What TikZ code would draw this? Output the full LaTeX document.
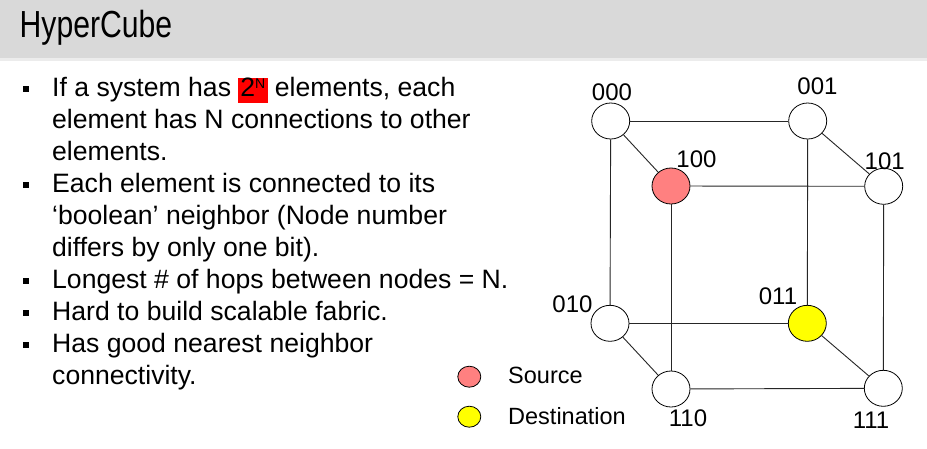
\documentclass[tikz,border=0pt]{standalone}
\usepackage{fontspec}
\setmainfont{Liberation Sans}
\newfontfamily\titlefont[FakeStretch=0.8]{Liberation Sans}
\usetikzlibrary{shapes.geometric}
\definecolor{barfill}{RGB}{217,217,217}
\definecolor{barline}{RGB}{236,236,236}
\definecolor{srcfill}{RGB}{255,128,128}
\definecolor{dstfill}{RGB}{255,255,0}
\definecolor{hl}{RGB}{255,0,0}
\setlength{\fboxsep}{0pt}
\newcommand{\twoN}{\colorbox{hl}{\rule[-6pt]{0pt}{24.7pt}\hspace{1.8pt}2\raisebox{8pt}{\fontsize{14}{14}\selectfont N}\hspace{2.4pt}}}
\begin{document}
\begin{tikzpicture}[x=1pt,y=-1pt,
  vertex/.style={ellipse,draw=black,line width=0.8pt,fill=white,minimum width=38pt,minimum height=36pt,inner sep=0},
  lbl/.style={font=\fontsize{24}{28}\selectfont,inner sep=0},
  bodytext/.style={font=\fontsize{26.6}{32}\selectfont,inner sep=0,anchor=base west},
  bulletsq/.style={fill=black,minimum size=6pt,inner sep=0},
  edge/.style={draw=black!85,line width=0.9pt},
  key/.style={ellipse,draw=black,line width=0.8pt,minimum width=23pt,minimum height=21pt,inner sep=0},
  keytext/.style={font=\fontsize{23.5}{28}\selectfont,inner sep=0,anchor=base west}]
\useasboundingbox (0,0) rectangle (927,448);
\fill[white] (0,0) rectangle (927,448);
% title bar
\fill[barfill] (0,0) rectangle (927,57.5);
\fill[barline] (0,57.5) rectangle (927,60.5);
\node[anchor=base west,inner sep=0,font=\titlefont\fontsize{37.7}{40}\selectfont] (title) at (19.5,37.3) {HyperCube};
% bullets
\foreach \n/\yy in {b1/88.5,b4/184.5,b7/280.5,b8/312.5,b9/344.5}
  \node[bulletsq] (\n) at (26.3,\yy) {};
% body text
\node[bodytext] (t1) at (52,96.7) {If a system has \twoN{} elements, each};
\node[bodytext] (t2) at (52,128.7) {element has N connections to other};
\node[bodytext] (t3) at (52,160.7) {elements.};
\node[bodytext] (t4) at (52,192.7) {Each element is connected to its};
\node[bodytext] (t5) at (52,224.7) {‘boolean’ neighbor (Node number};
\node[bodytext] (t6) at (52,256.7) {differs by only one bit).};
\node[bodytext] (t7) at (52,288.7) {Longest \# of hops between nodes = N.};
\node[bodytext] (t8) at (52,320.7) {Hard to build scalable fabric.};
\node[bodytext] (t9) at (52,352.7) {Has good nearest neighbor};
\node[bodytext] (t10) at (52,384.7) {connectivity.};
% cube vertices
\node[vertex] (v000) at (610.7,121) {};
\node[vertex] (v001) at (807.7,121) {};
\node[vertex,fill=srcfill] (v100) at (671,186) {};
\node[vertex] (v101) at (883.7,186.3) {};
\node[vertex] (v010) at (610,323.3) {};
\node[vertex,fill=dstfill] (v011) at (807.3,323.3) {};
\node[vertex] (v110) at (671,389) {};
\node[vertex] (v111) at (883.3,388.3) {};
% edges
\draw[edge] (v000) -- (v001);
\draw[edge] (v000) -- (v100);
\draw[edge] (v001) -- (v101);
\draw[edge] (v100) -- (v101);
\draw[edge] (v000) -- (v010);
\draw[edge] (v100) -- (v110);
\draw[edge] (v001) -- (v011);
\draw[edge] (v101) -- (v111);
\draw[edge] (v010) -- (v011);
\draw[edge] (v010) -- (v110);
\draw[edge] (v011) -- (v111);
\draw[edge] (v110) -- (v111);
% labels
\node[lbl] (l000) at (612,92.5) {000};
\node[lbl] (l001) at (817.5,86) {001};
\node[lbl] (l100) at (696.5,159) {100};
\node[lbl] (l101) at (884.7,161) {101};
\node[lbl] (l010) at (572.5,304.5) {010};
\node[lbl] (l011) at (778,296) {011};
\node[lbl] (l110) at (688,418.5) {110};
\node[lbl] (l111) at (871,420) {111};
% legend
\node[key,fill=srcfill] (ksrc) at (469.3,376.7) {};
\node[key,fill=dstfill] (kdst) at (469.3,416.7) {};
\node[keytext] (tsrc) at (508,383.3) {Source};
\node[keytext] (tdst) at (508,424) {Destination};
\end{tikzpicture}
\end{document}
